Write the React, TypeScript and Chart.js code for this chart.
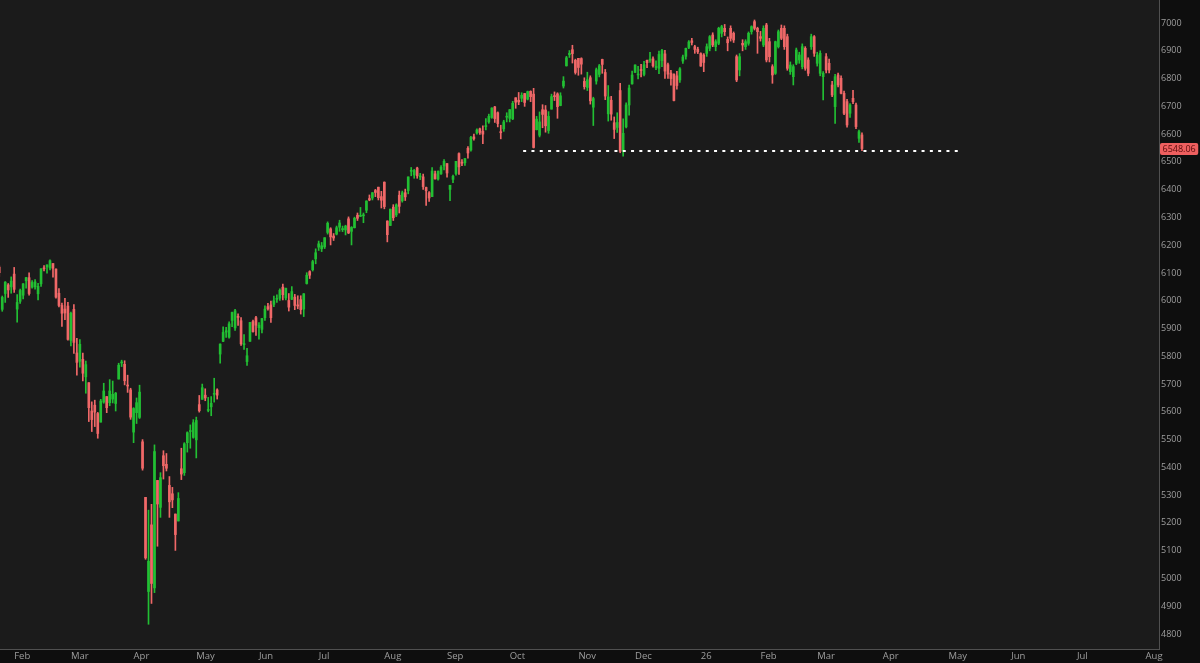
import React, { useEffect, useRef } from 'react';
import { Chart, registerables } from 'chart.js';

Chart.register(...registerables);

type Candle = [number, number, number, number]; // open, high, low, close

// Daily candles, one per trading day, starting at index 1 (late Jan 2025)
const jan25: Candle[] = [
  [6121, 6128, 6088, 6101], [5969, 6017, 5962, 6012], [6026, 6069, 5994, 6067], [6057, 6062, 6012, 6039],
  [6050, 6086, 6027, 6071], [6096, 6120, 6030, 6041],
];
const feb25: Candle[] = [
  [5970, 6022, 5923, 5994], [5998, 6042, 5990, 6037], [6020, 6062, 6007, 6061], [6072, 6084, 6045, 6083],
  [6083, 6101, 6020, 6026], [6049, 6073, 6045, 6066], [6050, 6076, 6042, 6068], [6025, 6063, 6003, 6052],
  [6061, 6116, 6052, 6115], [6116, 6127, 6107, 6115], [6122, 6129, 6099, 6129], [6118, 6147, 6111, 6144],
  [6134, 6134, 6085, 6117], [6114, 6115, 6009, 6013], [6027, 6044, 5978, 5983], [5983, 5992, 5908, 5955],
  [5970, 6009, 5932, 5956], [5981, 5994, 5858, 5861], [5857, 5959, 5837, 5955],
];
const mar25: Candle[] = [
  [5969, 5986, 5810, 5850], [5812, 5865, 5732, 5778], [5782, 5860, 5761, 5843], [5789, 5812, 5711, 5739],
  [5726, 5783, 5667, 5770], [5705, 5705, 5565, 5615], [5603, 5636, 5529, 5572], [5624, 5642, 5547, 5599],
  [5594, 5598, 5505, 5522], [5563, 5645, 5563, 5639], [5635, 5703, 5631, 5675], [5655, 5655, 5597, 5615],
  [5633, 5716, 5622, 5675], [5646, 5711, 5632, 5663], [5630, 5670, 5603, 5667], [5718, 5775, 5718, 5768],
  [5776, 5786, 5763, 5777], [5771, 5784, 5697, 5712], [5696, 5732, 5670, 5693], [5679, 5685, 5573, 5581],
  [5527, 5615, 5489, 5612],
];
const apr25: Candle[] = [
  [5597, 5650, 5558, 5633], [5580, 5696, 5576, 5671], [5492, 5500, 5390, 5397], [5292, 5292, 5069, 5074],
  [4953, 5246, 4835, 5062], [5193, 5267, 4910, 4982], [4966, 5481, 4949, 5457], [5353, 5353, 5116, 5268],
  [5256, 5381, 5220, 5363], [5442, 5460, 5358, 5406], [5411, 5450, 5387, 5397], [5335, 5367, 5220, 5276],
  [5305, 5328, 5255, 5283], [5232, 5232, 5101, 5158], [5207, 5309, 5207, 5288], [5395, 5469, 5356, 5376],
  [5381, 5489, 5371, 5485], [5489, 5528, 5455, 5525], [5529, 5553, 5469, 5529], [5508, 5572, 5505, 5561],
  [5499, 5581, 5434, 5569],
];
const may25: Candle[] = [
  [5626, 5659, 5599, 5604], [5645, 5700, 5645, 5687], [5660, 5683, 5640, 5650], [5605, 5652, 5600, 5607],
  [5618, 5655, 5586, 5631], [5663, 5721, 5635, 5664], [5679, 5683, 5646, 5660], [5808, 5845, 5775, 5844],
  [5854, 5906, 5853, 5886], [5887, 5904, 5868, 5892], [5869, 5924, 5865, 5917], [5929, 5959, 5907, 5958],
  [5902, 5969, 5893, 5964], [5944, 5953, 5911, 5940], [5928, 5939, 5839, 5845], [5842, 5878, 5825, 5842],
  [5781, 5829, 5767, 5802], [5854, 5922, 5854, 5922], [5925, 5930, 5887, 5889], [5939, 5944, 5875, 5912],
  [5903, 5921, 5862, 5912],
];
const jun25: Candle[] = [
  [5897, 5937, 5884, 5936], [5939, 5982, 5929, 5970], [5979, 5991, 5966, 5971], [5985, 5999, 5922, 5939],
  [5987, 6017, 5979, 6000], [6005, 6021, 5994, 6006], [6009, 6043, 6001, 6038], [6049, 6060, 6003, 6022],
  [6010, 6046, 6003, 6045], [6001, 6026, 5963, 5977], [6005, 6051, 6004, 6033], [6013, 6023, 5968, 5983],
  [5985, 6018, 5971, 5981], [6004, 6018, 5952, 5968], [5970, 6026, 5943, 6025], [6062, 6101, 6060, 6092],
  [6105, 6108, 6080, 6092], [6112, 6146, 6107, 6141], [6151, 6187, 6133, 6173], [6193, 6215, 6181, 6205],
];
const jul25: Candle[] = [
  [6187, 6210, 6177, 6198], [6194, 6227, 6188, 6227], [6246, 6284, 6240, 6279], [6259, 6263, 6201, 6230],
  [6233, 6242, 6217, 6226], [6240, 6269, 6237, 6263], [6265, 6290, 6250, 6280], [6256, 6269, 6249, 6260],
  [6255, 6272, 6237, 6269], [6295, 6302, 6242, 6244], [6250, 6267, 6201, 6264], [6263, 6301, 6262, 6297],
  [6308, 6316, 6289, 6297], [6304, 6336, 6303, 6306], [6306, 6316, 6281, 6309], [6326, 6360, 6317, 6359],
  [6368, 6381, 6360, 6363], [6370, 6390, 6363, 6389], [6397, 6401, 6375, 6390], [6409, 6409, 6363, 6371],
  [6375, 6394, 6334, 6362], [6427, 6428, 6331, 6339],
];
const aug25: Candle[] = [
  [6287, 6288, 6212, 6238], [6271, 6330, 6271, 6330], [6337, 6346, 6289, 6299], [6309, 6349, 6303, 6345],
  [6380, 6395, 6316, 6340], [6360, 6395, 6355, 6389], [6389, 6402, 6361, 6374], [6397, 6446, 6385, 6446],
  [6466, 6480, 6450, 6466], [6453, 6473, 6441, 6469], [6478, 6481, 6441, 6450], [6446, 6459, 6436, 6449],
  [6446, 6456, 6401, 6411], [6408, 6409, 6343, 6396], [6389, 6393, 6358, 6370], [6375, 6480, 6375, 6467],
  [6457, 6467, 6438, 6439], [6438, 6468, 6434, 6466], [6457, 6487, 6455, 6481], [6485, 6508, 6471, 6502],
  [6494, 6494, 6445, 6460],
];
const sep25: Candle[] = [
  [6401, 6416, 6360, 6416], [6437, 6453, 6425, 6448], [6458, 6502, 6452, 6502], [6530, 6533, 6455, 6482],
  [6499, 6508, 6486, 6495], [6497, 6513, 6487, 6512], [6549, 6555, 6513, 6532], [6543, 6592, 6539, 6588],
  [6590, 6600, 6578, 6584], [6604, 6619, 6600, 6615], [6619, 6622, 6599, 6606], [6610, 6630, 6566, 6600],
  [6627, 6656, 6615, 6631], [6644, 6672, 6639, 6664], [6660, 6695, 6657, 6694], [6698, 6700, 6642, 6656],
  [6677, 6680, 6626, 6638], [6609, 6632, 6583, 6605], [6619, 6650, 6610, 6644], [6661, 6677, 6644, 6661],
  [6657, 6689, 6644, 6688],
];
const oct25: Candle[] = [
  [6655, 6718, 6652, 6711], [6731, 6731, 6693, 6715], [6722, 6750, 6706, 6716], [6729, 6749, 6717, 6740],
  [6746, 6747, 6700, 6714], [6726, 6755, 6723, 6753], [6754, 6756, 6717, 6735], [6744, 6765, 6550, 6552],
  [6616, 6664, 6615, 6654], [6596, 6680, 6590, 6644], [6688, 6706, 6623, 6671], [6687, 6703, 6607, 6630],
  [6613, 6681, 6603, 6664], [6690, 6744, 6690, 6735], [6736, 6752, 6721, 6735], [6745, 6749, 6657, 6699],
  [6703, 6749, 6702, 6738], [6773, 6807, 6766, 6791], [6846, 6880, 6845, 6875], [6886, 6901, 6876, 6891],
  [6904, 6920, 6856, 6890], [6866, 6870, 6816, 6822], [6873, 6873, 6812, 6840],
];
const nov25: Candle[] = [
  [6872, 6875, 6816, 6852], [6790, 6803, 6762, 6771], [6768, 6823, 6757, 6796], [6803, 6810, 6708, 6720],
  [6697, 6733, 6631, 6728], [6791, 6838, 6780, 6832], [6815, 6851, 6806, 6846], [6869, 6870, 6819, 6851],
  [6822, 6833, 6724, 6737], [6673, 6775, 6647, 6734], [6722, 6736, 6650, 6672], [6641, 6662, 6584, 6617],
  [6624, 6677, 6606, 6642], [6757, 6783, 6533, 6538], [6540, 6655, 6521, 6603], [6626, 6713, 6622, 6705],
  [6705, 6777, 6668, 6766], [6781, 6827, 6780, 6813], [6822, 6850, 6822, 6849],
];
const dec25: Candle[] = [
  [6813, 6844, 6799, 6813], [6831, 6851, 6806, 6829], [6815, 6862, 6810, 6850], [6866, 6867, 6839, 6857],
  [6866, 6895, 6858, 6870], [6871, 6878, 6841, 6846], [6840, 6864, 6832, 6840], [6837, 6899, 6818, 6887],
  [6865, 6905, 6843, 6901], [6889, 6902, 6801, 6827], [6850, 6856, 6801, 6816], [6820, 6830, 6776, 6800],
  [6816, 6817, 6720, 6721], [6810, 6826, 6762, 6775], [6795, 6840, 6786, 6835], [6863, 6885, 6855, 6878],
  [6880, 6910, 6870, 6909], [6912, 6937, 6908, 6932], [6936, 6945, 6921, 6930], [6915, 6920, 6891, 6905],
  [6906, 6913, 6890, 6896], [6890, 6893, 6844, 6845],
];
const jan26: Candle[] = [
  [6885, 6890, 6825, 6858], [6891, 6925, 6880, 6915], [6909, 6955, 6900, 6951], [6957, 6965, 6915, 6921],
  [6915, 6940, 6900, 6933], [6927, 6985, 6922, 6981], [6963, 6992, 6950, 6987], [6981, 6995, 6955, 6969],
  [6941, 6950, 6900, 6929], [6981, 6990, 6935, 6945], [6963, 6968, 6930, 6939], [6879, 6885, 6789, 6795],
  [6831, 6890, 6810, 6879], [6927, 6940, 6900, 6921], [6915, 6940, 6905, 6933], [6927, 6968, 6920, 6963],
  [6969, 6990, 6960, 6987], [7005, 7011, 6975, 6981], [6981, 6985, 6891, 6969], [6951, 6970, 6935, 6945],
];
const feb26: Candle[] = [
  [6921, 6990, 6915, 6981], [6993, 6999, 6860, 6867], [6933, 6945, 6860, 6879], [6843, 6850, 6783, 6813],
  [6819, 6935, 6815, 6933], [6915, 6975, 6910, 6969], [6981, 6993, 6940, 6945], [6981, 6990, 6905, 6915],
  [6951, 6960, 6830, 6837], [6825, 6860, 6815, 6849], [6807, 6850, 6777, 6843], [6855, 6910, 6850, 6903],
  [6867, 6895, 6855, 6885], [6843, 6925, 6835, 6915], [6909, 6915, 6830, 6837], [6867, 6875, 6810, 6819],
  [6915, 6960, 6905, 6951], [6951, 6955, 6880, 6891], [6855, 6895, 6845, 6885],
];
const mar26: Candle[] = [
  [6819, 6900, 6810, 6891], [6807, 6825, 6723, 6819], [6879, 6890, 6820, 6831], [6855, 6870, 6820, 6831],
  [6777, 6790, 6735, 6741], [6699, 6815, 6639, 6807], [6813, 6820, 6770, 6777], [6801, 6810, 6745, 6747],
  [6747, 6755, 6670, 6675], [6717, 6725, 6625, 6633], [6675, 6710, 6660, 6705], [6729, 6758, 6710, 6717],
  [6705, 6712, 6620, 6627], [6585, 6615, 6570, 6609], [6597, 6605, 6540, 6548.06],
];

const monthLabels = ['Feb', 'Mar', 'Apr', 'May', 'Jun', 'Jul', 'Aug', 'Sep', 'Oct', 'Nov', 'Dec', '26',
  'Feb', 'Mar', 'Apr', 'May', 'Jun', 'Jul', 'Aug'];
// trading-day index of each month's first session
const monthStartIndex = [7, 26, 47, 68, 89, 109, 131, 152, 173, 196, 215, 237, 257, 276, 298, 320, 341, 363, 386];
const priceTicks = [4800, 4900, 5000, 5100, 5200, 5300, 5400, 5500, 5600, 5700, 5800, 5900,
  6000, 6100, 6200, 6300, 6400, 6500, 6600, 6700, 6800, 6900, 7000];
const supportLevel = 6539;
const supportStartIndex = 176.5;
const supportEndIndex = 322.5;

const candles: Candle[] = [
  ...jan25, ...feb25, ...mar25, ...apr25, ...may25, ...jun25, ...jul25, ...aug25,
  ...sep25, ...oct25, ...nov25, ...dec25, ...jan26, ...feb26, ...mar26,
];
const lastClose = candles[candles.length - 1][3];

const UP = '#22bf33';
const DOWN = '#f06868';
const PLOT_BG = '#1b1b1b';
const AXIS_BG = '#0e0e0e';
const TEXT = '#9e9e9e';

export default function App() {
  const ref = useRef<HTMLCanvasElement | null>(null);

  useEffect(() => {
    if (!ref.current) return;
    const colors = candles.map(([o, , , c]) => (c >= o ? UP : DOWN));
    const bodies = candles.map(([o, , , c], i) => ({ x: i + 1, y: [Math.min(o, c), Math.max(o, c)] }));
    const wicks = candles.map(([, h, l], i) => ({ x: i + 1, y: [l, h] }));

    const bgPlugin = {
      id: 'bg',
      beforeDraw(chart: any) {
        const { ctx, chartArea: a, width, height } = chart;
        ctx.save();
        ctx.fillStyle = AXIS_BG;
        ctx.fillRect(0, 0, width, height);
        ctx.fillStyle = PLOT_BG;
        ctx.fillRect(0, 0, a.right, a.bottom);
        ctx.restore();
      },
    };
    const tagPlugin = {
      id: 'tag',
      afterDraw(chart: any) {
        const { ctx, chartArea: a } = chart;
        const y = Math.round(chart.scales.y.getPixelForValue(lastClose));
        ctx.save();
        ctx.font = '9px "Open Sans"';
        const w = ctx.measureText(lastClose.toFixed(2)).width + 5;
        ctx.fillStyle = '#ee5f5f';
        ctx.beginPath();
        (ctx as any).roundRect(a.right + 1, y - 6, w, 12, 2);
        ctx.fill();
        ctx.fillStyle = '#5a0b0b';
        ctx.textBaseline = 'middle';
        ctx.textAlign = 'left';
        ctx.fillText(lastClose.toFixed(2), a.right + 3.5, y + 0.5);
        ctx.restore();
      },
    };

    const chart = new Chart(ref.current, {
      type: 'bar',
      data: {
        datasets: [
          {
            type: 'line',
            data: [{ x: supportStartIndex, y: supportLevel }, { x: supportEndIndex, y: supportLevel }],
            borderColor: '#ffffff',
            borderWidth: 2,
            borderDash: [3, 5.3],
            pointRadius: 0,
            order: 0,
          } as any,
          {
            type: 'bar',
            data: bodies as any,
            backgroundColor: colors,
            grouped: false,
            barThickness: 2,
            minBarLength: 1,
            order: 1,
          } as any,
          {
            type: 'bar',
            data: wicks as any,
            backgroundColor: colors,
            grouped: false,
            barThickness: 1,
            order: 2,
          } as any,
        ],
      },
      options: {
        animation: false,
        responsive: true,
        maintainAspectRatio: false,
        layout: { padding: 0 },
        plugins: { legend: { display: false }, tooltip: { enabled: false } },
        scales: {
          x: {
            type: 'linear',
            min: 1.25,
            max: 389.5,
            offset: false,
            grid: { display: false, drawTicks: false, offset: false },
            border: { display: true, color: '#505050', width: 1 },
            ticks: {
              color: TEXT,
              font: { family: '"Open Sans"', size: 9.5 },
              padding: 2,
              maxRotation: 0,
              autoSkip: false,
              align: 'start',
              callback: (_v: any, i: number) => monthLabels[i],
            },
            afterBuildTicks: (s: any) => {
              s.ticks = monthStartIndex.map((v) => ({ value: v - 1 }));
            },
            afterFit: (s: any) => {
              s.height = 14;
              s.paddingLeft = 0;
              s.paddingRight = 0;
            },
          } as any,
          y: {
            position: 'right',
            min: 4746,
            max: 7083,
            grid: { display: false, drawTicks: false },
            border: { display: true, color: '#505050', width: 1 },
            ticks: {
              color: TEXT,
              font: { family: '"Open Sans"', size: 9 },
              padding: 2,
              autoSkip: false,
              callback: (v: any) => String(v),
            },
            afterBuildTicks: (s: any) => {
              s.ticks = priceTicks.map((v) => ({ value: v }));
            },
            afterFit: (s: any) => {
              s.width = 41;
              s.paddingTop = 0;
              s.paddingBottom = 0;
            },
          } as any,
        },
      },
      plugins: [bgPlugin, tagPlugin],
    });
    return () => chart.destroy();
  }, []);

  return (
    <div style={{ position: 'fixed', left: 0, top: 0, width: 1200, height: 663, background: AXIS_BG }}>
      <canvas ref={ref} />
    </div>
  );
}
